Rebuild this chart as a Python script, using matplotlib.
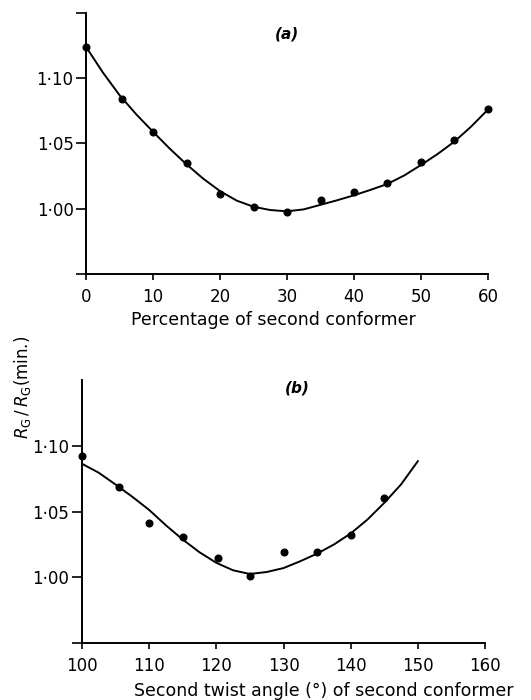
import numpy as np
import matplotlib.pyplot as plt

# (a) percentage of second conformer
pct_pts = [0, 5.3, 10, 15, 20, 25, 30, 35, 40, 45, 50, 55, 60]
pct_vals = [1.124, 1.084, 1.059, 1.035, 1.0115, 1.001, 0.9975, 1.0067, 1.0128, 1.0197, 1.0359, 1.0523, 1.0762]
pct_curve_x = [0, 2.5, 5, 7.5, 10, 12.5, 15, 17.5, 20, 22.5, 25, 27.5, 30, 32.5, 35,
               37.5, 40, 42.5, 45, 47.5, 50, 52.5, 55, 57.5, 60]
pct_curve_y = [1.124, 1.1045, 1.087, 1.0723, 1.059, 1.046, 1.034, 1.023, 1.0135, 1.0062,
               1.0015, 0.999, 0.998, 0.9995, 1.003, 1.0065, 1.0103, 1.0145, 1.019,
               1.0255, 1.0335, 1.042, 1.0515, 1.063, 1.076]

# (b) second twist angle
ang_pts = [100, 105.5, 110, 115, 120.3, 125, 130, 135, 140, 145]
ang_vals = [1.0926, 1.0683, 1.0416, 1.031, 1.015, 1.0008, 1.019, 1.019, 1.032, 1.060]
ang_curve_x = [100, 102.5, 105, 107.5, 110, 112.5, 115, 117.5, 120, 122.5, 125,
               127.5, 130, 132.5, 135, 137.5, 140, 142.5, 145, 147.5, 150]
ang_curve_y = [1.0863, 1.0795, 1.0705, 1.0612, 1.0512, 1.0395, 1.0287, 1.019, 1.011,
               1.0053, 1.0025, 1.004, 1.007, 1.0122, 1.018, 1.0249, 1.0333, 1.0439,
               1.0566, 1.0706, 1.0883]

ytick_vals = [0.95, 1.00, 1.05, 1.10, 1.15]
ytick_labels = ['', '1\u00b700', '1\u00b705', '1\u00b710', '']

fig = plt.figure(figsize=(5.31, 7.0), dpi=100)
ax1 = fig.add_axes([0.162, 0.6086, 0.757, 0.3729])
ax2 = fig.add_axes([0.1544, 0.0814, 0.759, 0.3757])

def style(ax):
    ax.spines['right'].set_color('none')
    ax.spines['top'].set_color('none')
    ax.spines['left'].set_linewidth(1.4)
    ax.spines['bottom'].set_linewidth(1.4)
    ax.tick_params(axis='y', direction='out', length=7, width=1.2, pad=2, labelsize=12)
    ax.tick_params(axis='x', direction='out', length=4, width=1.2, pad=6, labelsize=12)
    ax.set_ylim(0.95, 1.15)

style(ax1)
ax1.plot(pct_curve_x, pct_curve_y, color='black', linewidth=1.4)
ax1.plot(pct_pts, pct_vals, 'o', color='black', markersize=4.8, clip_on=False)
ax1.set_xlim(0, 60)
ax1.set_xticks([0, 10, 20, 30, 40, 50, 60])
ax1.set_yticks(ytick_vals, ytick_labels)
ax1.text(30, 1.134, '(a)', fontsize=11, style='italic', weight='bold', ha='center', va='center')

style(ax2)
ax2.plot(ang_curve_x, ang_curve_y, color='black', linewidth=1.4)
ax2.plot(ang_pts, ang_vals, 'o', color='black', markersize=4.8, clip_on=False)
ax2.set_xlim(100, 160)
ax2.set_xticks([100, 110, 120, 130, 140, 150, 160])
ax2.set_yticks(ytick_vals[:-1], ytick_labels[:-1])
ax2.text(132, 1.144, '(b)', fontsize=11, style='italic', weight='bold', ha='center', va='center')

fig.text(0.514, 0.543, 'Percentage of second conformer', fontsize=12.5, ha='center', va='center')
fig.text(0.61, 0.013, 'Second twist angle (\u00b0) of second conformer', fontsize=12.5,
         ha='center', va='center')
fig.text(0.042, 0.447, r'$R_{\rm G}\,/\,R_{\rm G}$(min.)', fontsize=12, rotation=90,
         ha='center', va='center')

plt.savefig('out.png', dpi=100)
